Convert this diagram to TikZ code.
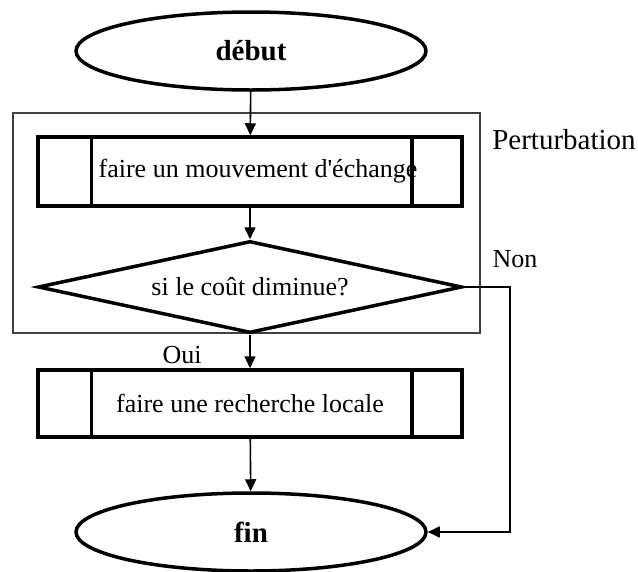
\documentclass[tikz,border=0pt]{standalone}
\usepackage{fontspec}
\setmainfont{Liberation Serif}
\usetikzlibrary{shapes.geometric,arrows.meta}

\begin{document}
\begin{tikzpicture}[x=1pt, y=-1pt,
      every node/.append style={font=\fontsize{26}{30}\selectfont},
      arrow/.style={line width=1.6pt, -{Triangle[length=12pt,width=11pt]}}]
    \tikzstyle{term} = [ellipse,draw,line width=3.5pt,inner sep=0pt,
      minimum width=350pt,minimum height=78pt,font=\fontsize{29}{32}\selectfont\bfseries]
    \tikzstyle{subproc} = [rectangle,draw,line width=3.5pt,inner sep=0pt,
      minimum width=424pt]
    \tikzstyle{decision} = [diamond,draw,line width=3.5pt,inner sep=0pt,
      minimum width=424pt,minimum height=92pt,aspect=4.6]
    \useasboundingbox (0,0) rectangle (638,571);
    \node (pert) [draw=black!75,line width=1.5pt,minimum width=467pt,
      minimum height=220pt,inner sep=0pt] at (246.5,223) {};
    \node (debut) [term,fill=white] at (251,51) {début};
    \node (echange) [subproc,minimum height=69pt] at (250,171.5) {\hspace*{16pt}faire un mouvement d\textquotesingle échange};
    \node (cout) [decision] at (250,287) {si le coût diminue?};
    \node (recherche) [subproc,minimum height=67pt] at (250,403.5) {faire une recherche locale};
    \node (fin) [term] at (251,532) {fin};
    \node (oui) at (182,355) {Oui};
    \node (non) at (515,259) {Non};
    \node (perturbation) [font=\fontsize{29}{32}\selectfont] at (564,140) {Perturbation};
    \coordinate (bend1) at (510,287);
    \coordinate (bend2) at (510,532);
    \foreach \side in {echange, recherche} {
      \draw[line width=3.5pt] ([xshift=55pt]\side.north west) -- ([xshift=55pt]\side.south west);
      \draw[line width=3.5pt] ([xshift=-52pt]\side.north east) -- ([xshift=-52pt]\side.south east);
    }
    \draw[arrow] (debut) -- (echange);
    \draw[arrow] (echange) -- (cout);
    \draw[arrow] (cout) -- (recherche);
    \draw[arrow] (recherche) -- (fin);
    \draw[arrow] (cout.east) -- (bend1) -- (bend2) -- (fin.east);
\end{tikzpicture}
\end{document}
